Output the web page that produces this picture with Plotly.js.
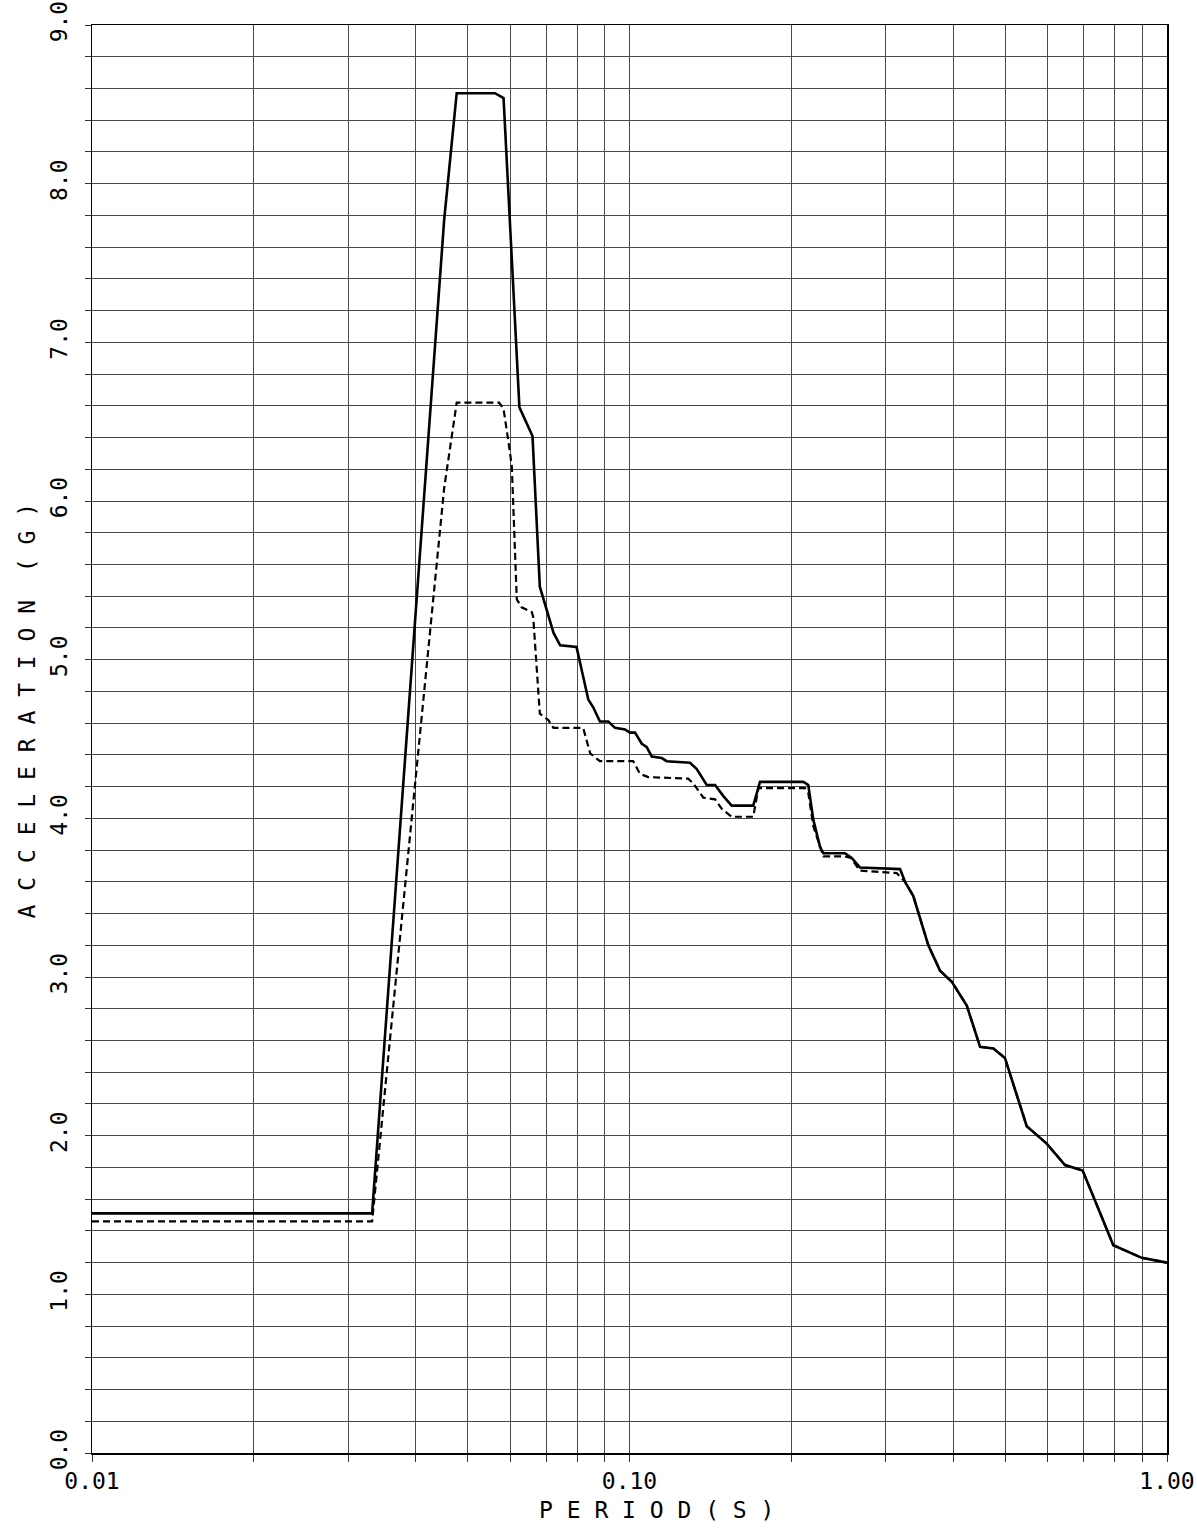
<!DOCTYPE html>
<html>
<head>
<meta charset="utf-8">
<script src="https://cdn.plot.ly/plotly-3.0.1.min.js"></script>
<style>html,body{margin:0;padding:0;background:#fff;}#chart{width:1197px;height:1528px;}</style>
</head>
<body>
<div id="chart"></div>
<script>
// Period (s) and spectral acceleration (G)
const periodSolid = [0.0100,0.0332,0.0452,0.0477,0.0562,0.0583,0.0624,0.0660,0.0681,0.0722,0.0743,0.0797,0.0838,0.0856,0.0881,0.0913,0.0940,0.0981,0.1002,0.1024,0.1054,0.1076,0.1100,0.1148,0.1173,0.1296,0.1334,0.1392,0.1443,0.1495,0.1549,0.1699,0.1749,0.2106,0.2151,0.2198,0.2262,0.2294,0.2517,0.2591,0.2685,0.2924,0.3187,0.3255,0.3373,0.3597,0.3782,0.3978,0.4241,0.4490,0.4752,0.4994,0.5253,0.5483,0.5973,0.6460,0.6968,0.7945,0.8974,1.0000];
const accelSolid = [1.51,1.51,7.77,8.57,8.57,8.54,6.59,6.41,5.46,5.17,5.09,5.08,4.75,4.70,4.61,4.61,4.57,4.56,4.54,4.54,4.47,4.45,4.39,4.38,4.36,4.35,4.31,4.21,4.21,4.14,4.08,4.08,4.23,4.23,4.21,3.99,3.82,3.78,3.78,3.75,3.69,3.685,3.68,3.60,3.51,3.20,3.04,2.97,2.82,2.56,2.55,2.49,2.25,2.06,1.95,1.815,1.78,1.31,1.23,1.20];

const periodDashed = [0.0100,0.0332,0.0452,0.0477,0.0572,0.0583,0.0595,0.0604,0.0608,0.0617,0.0630,0.0658,0.0662,0.0677,0.0681,0.0706,0.0722,0.0820,0.0845,0.0881,0.1016,0.1046,0.1084,0.1286,0.1314,0.1372,0.1443,0.1485,0.1549,0.1699,0.1737,0.2121,0.2151,0.2198,0.2294,0.2517,0.2580,0.2685,0.3141,0.3255,0.3373,0.3597,0.3782,0.3978,0.4241,0.4490,0.4752,0.4994,0.5253,0.5483,0.5973,0.6460,0.6968,0.7945,0.8974,1.0000];
const accelDashed = [1.46,1.46,6.08,6.62,6.62,6.58,6.38,6.22,5.96,5.38,5.33,5.30,5.27,4.75,4.66,4.62,4.57,4.57,4.41,4.36,4.36,4.28,4.26,4.25,4.22,4.13,4.12,4.06,4.01,4.01,4.19,4.19,4.16,3.95,3.76,3.76,3.75,3.67,3.655,3.60,3.51,3.20,3.04,2.97,2.82,2.56,2.55,2.49,2.25,2.06,1.95,1.815,1.78,1.31,1.23,1.20];

// Tick labels
const xTickVals = [0.01,0.02,0.03,0.04,0.05,0.06,0.07,0.08,0.09,0.1,0.2,0.3,0.4,0.5,0.6,0.7,0.8,0.9,1.0];
const xTickText = ["0.01","","","","","","","","","0.10","","","","","","","","","1.00"];
const yMajorLabels = ["0.0","1.0","2.0","3.0","4.0","5.0","6.0","7.0","8.0","9.0"];
const xTitle = "P E R I O D ( S )";
const yTitle = "A C C E L E R A T I O N \u00a0( G )";

const yTickVals = [], yTickText = [];
for (let k = 0; k <= 45; k++) {
  yTickVals.push(+(k * 0.2).toFixed(1));
  yTickText.push(k % 5 === 0 ? yMajorLabels[k / 5] : "");
}

const FONT = "DejaVu Sans Mono";

const traces = [
  {x: periodDashed, y: accelDashed, type: 'scatter', mode: 'lines',
   line: {color: '#000', width: 2.2, dash: '7px,4px'}, hoverinfo: 'skip'},
  {x: periodSolid, y: accelSolid, type: 'scatter', mode: 'lines',
   line: {color: '#000', width: 2.6}, hoverinfo: 'skip'}
];

const layout = {
  width: 1197, height: 1528,
  margin: {l: 92, r: 30, t: 25, b: 75, pad: 0},
  paper_bgcolor: '#fff', plot_bgcolor: '#fff',
  showlegend: false,
  font: {family: FONT, color: '#000'},
  xaxis: {
    type: 'log', range: [-2, 0],
    tickmode: 'array', tickvals: xTickVals, ticktext: xTickText,
    ticks: 'outside', ticklen: 7, tickwidth: 1, tickcolor: '#333',
    showgrid: true, gridcolor: '#4a4a4a', gridwidth: 1,
    showline: true, linecolor: '#000', linewidth: 1.5, mirror: true,
    zeroline: false, ticklabeloverflow: 'allow',
    tickfont: {family: FONT, size: 23, color: '#000'}
  },
  yaxis: {
    range: [0, 9],
    tickmode: 'array', tickvals: yTickVals, ticktext: yTickText,
    tickangle: -90,
    ticks: 'outside', ticklen: 6, tickwidth: 1, tickcolor: '#333',
    showgrid: true, gridcolor: '#4a4a4a', gridwidth: 1,
    showline: true, linecolor: '#000', linewidth: 1.5, mirror: true,
    zeroline: false, ticklabeloverflow: 'allow',
    tickfont: {family: FONT, size: 23, color: '#000'},
    ticklabelstandoff: 8
  },
  annotations: [
    {text: xTitle, xref: 'paper', yref: 'paper', x: 0.5247, y: -0.040,
     xanchor: 'center', yanchor: 'middle', showarrow: false,
     font: {family: FONT, size: 23, color: '#000'}},
    {text: yTitle, xref: 'paper', yref: 'paper', x: -0.0605, y: 0.520,
     xanchor: 'center', yanchor: 'middle', textangle: -90, showarrow: false,
     font: {family: FONT, size: 23, color: '#000'}}
  ]
};

Plotly.newPlot('chart', traces, layout, {staticPlot: true, displayModeBar: false});
</script>
</body>
</html>
